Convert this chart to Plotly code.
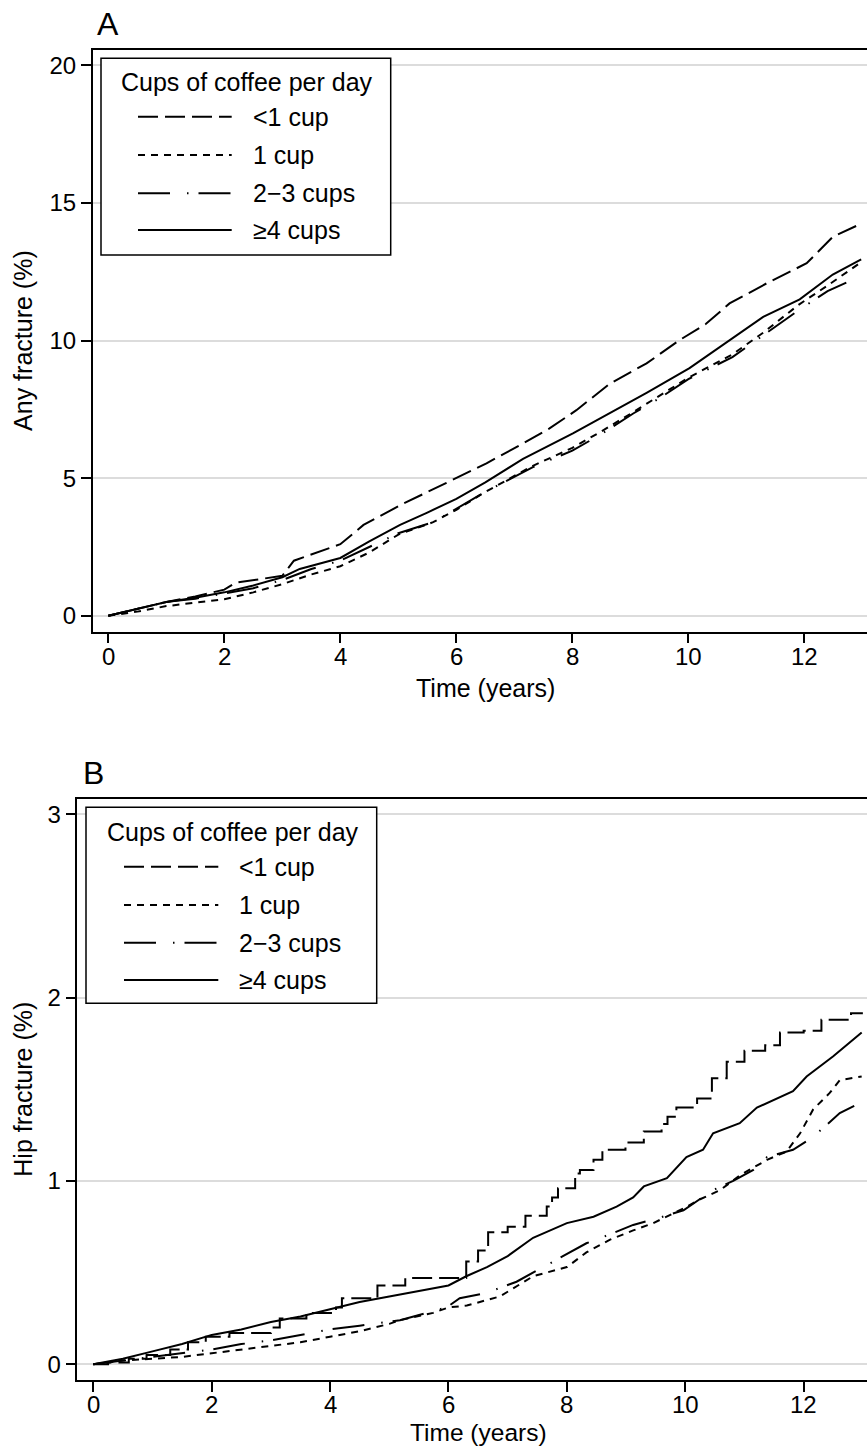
import plotly.graph_objects as go

W, H = 867, 1446

# ---------------- data ----------------
series_names = ["<1 cup", "1 cup", "2\u22123 cups", "\u22654 cups"]
legend_title = "Cups of coffee per day"

# Panel A: any fracture (%)
a_lt1_t = [0, 0.5, 1.0, 1.5, 2.0, 2.2, 2.5, 3.0, 3.2, 3.6, 4.0, 4.4, 5.09, 5.83, 6.52, 7.15, 7.6, 8.07, 8.65, 9.28, 9.85, 10.3, 10.71, 11.35, 12.04, 12.49, 12.98]
a_lt1_v = [0, 0.25, 0.5, 0.7, 0.95, 1.2, 1.3, 1.45, 2.0, 2.3, 2.6, 3.3, 4.08, 4.83, 5.54, 6.26, 6.8, 7.47, 8.44, 9.17, 10.02, 10.6, 11.35, 12.08, 12.81, 13.77, 14.25]

a_1_t = [0, 0.5, 1.0, 1.5, 2.0, 2.5, 3.0, 3.5, 4.0, 4.5, 5.0, 5.6, 6.0, 6.5, 7.32, 8.0, 8.5, 9.05, 9.5, 10.0, 10.76, 11.3, 11.9, 12.4, 12.98]
a_1_v = [0, 0.15, 0.35, 0.48, 0.6, 0.85, 1.15, 1.5, 1.8, 2.3, 2.95, 3.4, 3.85, 4.5, 5.45, 6.1, 6.7, 7.4, 8.0, 8.65, 9.5, 10.3, 11.3, 12.0, 12.85]

a_23_t = [0, 0.5, 1.0, 1.5, 2.0, 2.5, 3.0, 3.5, 4.0, 4.5, 5.0, 5.6, 6.0, 6.5, 7.32, 8.0, 8.5, 9.05, 9.5, 10.0, 10.76, 11.3, 11.9, 12.4, 12.98]
a_23_v = [0, 0.25, 0.5, 0.62, 0.8, 1.0, 1.3, 1.7, 2.0, 2.5, 3.0, 3.4, 3.9, 4.5, 5.4, 6.0, 6.6, 7.35, 7.9, 8.6, 9.4, 10.2, 11.1, 11.8, 12.35]

a_4_t = [0, 0.5, 1.0, 1.5, 2.0, 2.5, 3.0, 3.3, 4.0, 4.5, 5.03, 5.5, 6.0, 6.5, 7.15, 8.01, 8.6, 9.28, 10.02, 10.6, 11.29, 11.92, 12.49, 12.98]
a_4_v = [0, 0.25, 0.5, 0.65, 0.85, 1.1, 1.4, 1.7, 2.1, 2.7, 3.3, 3.75, 4.25, 4.85, 5.7, 6.63, 7.3, 8.1, 9.0, 9.85, 10.86, 11.5, 12.4, 12.95]

# Panel B: hip fracture (%)
b_lt1_t = [0, 0.25, 0.6, 0.9, 1.3, 1.6, 1.9, 2.3, 3.0, 3.15, 3.6, 4.1, 4.2, 4.8, 5.27, 6.3, 6.5, 6.67, 7.0, 7.3, 7.66, 7.75, 7.85, 8.14, 8.22, 8.45, 8.6, 8.99, 9.3, 9.6, 9.7, 9.85, 10.2, 10.45, 10.7, 11.0, 11.35, 11.6, 12.0, 12.3, 12.8, 13.0]
b_lt1_v = [0, 0.01, 0.03, 0.05, 0.08, 0.12, 0.15, 0.17, 0.20, 0.25, 0.28, 0.31, 0.36, 0.43, 0.47, 0.56, 0.62, 0.72, 0.75, 0.81, 0.86, 0.91, 0.96, 1.04, 1.06, 1.115, 1.17, 1.21, 1.27, 1.31, 1.35, 1.40, 1.45, 1.56, 1.65, 1.71, 1.74, 1.81, 1.82, 1.88, 1.915, 1.915]

b_1_t = [0, 0.5, 1.0, 1.5, 2.0, 2.5, 3.0, 3.5, 4.0, 4.5, 5.0, 5.18, 5.74, 6.0, 6.31, 6.87, 7.43, 8.0, 8.33, 8.73, 9.12, 9.46, 9.97, 10.25, 10.59, 10.92, 11.38, 11.71, 11.94, 12.16, 12.44, 12.61, 12.98]
b_1_v = [0, 0.02, 0.03, 0.04, 0.06, 0.08, 0.10, 0.12, 0.15, 0.18, 0.22, 0.24, 0.28, 0.31, 0.32, 0.37, 0.48, 0.53, 0.61, 0.68, 0.73, 0.77, 0.85, 0.90, 0.95, 1.03, 1.115, 1.16, 1.26, 1.39, 1.48, 1.55, 1.57]

b_23_t = [0, 0.5, 1.0, 1.5, 2.0, 2.5, 3.0, 3.5, 4.0, 4.5, 5.0, 5.18, 5.74, 5.97, 6.19, 6.65, 7.15, 7.6, 8.05, 8.33, 8.78, 9.12, 9.57, 9.97, 10.47, 10.81, 11.15, 11.38, 11.82, 12.16, 12.61, 12.98]
b_23_v = [0, 0.02, 0.04, 0.06, 0.08, 0.11, 0.13, 0.16, 0.19, 0.21, 0.23, 0.24, 0.29, 0.31, 0.36, 0.39, 0.45, 0.53, 0.61, 0.66, 0.715, 0.76, 0.80, 0.84, 0.95, 1.0, 1.06, 1.13, 1.17, 1.24, 1.37, 1.43]

b_4_t = [0, 0.5, 1.0, 1.5, 2.0, 2.5, 3.0, 3.5, 4.0, 4.5, 5.0, 5.5, 6.0, 6.3, 6.65, 7.0, 7.43, 8.0, 8.45, 8.84, 9.12, 9.3, 9.69, 10.02, 10.3, 10.47, 10.92, 11.21, 11.82, 12.05, 12.5, 12.98]
b_4_v = [0, 0.03, 0.07, 0.11, 0.16, 0.19, 0.23, 0.26, 0.30, 0.34, 0.37, 0.40, 0.43, 0.48, 0.53, 0.59, 0.69, 0.77, 0.805, 0.86, 0.91, 0.97, 1.015, 1.13, 1.17, 1.26, 1.315, 1.40, 1.49, 1.57, 1.68, 1.81]

x_ticks = [0, 2, 4, 6, 8, 10, 12]
a_y_ticks = [0, 5, 10, 15, 20]
b_y_ticks = [0, 1, 2, 3]

# ---------------- styles ----------------
FONT = "Liberation Sans, Arial, Helvetica, sans-serif"
dashes = ["20px,7px", "7px,6px", "32px,17px,1.5px,10px", "solid"]
LW = 2.0
TXT = 25


def px(x):
    return x / W


def py(y):
    return 1 - y / H


fig = go.Figure()

panelA = [(a_lt1_t, a_lt1_v, "linear"), (a_1_t, a_1_v, "linear"),
          (a_23_t, a_23_v, "linear"), (a_4_t, a_4_v, "linear")]
panelB = [(b_lt1_t, b_lt1_v, "hv"), (b_1_t, b_1_v, "linear"),
          (b_23_t, b_23_v, "linear"), (b_4_t, b_4_v, "linear")]

for i, (t, v, shp) in enumerate(panelA):
    fig.add_trace(go.Scatter(x=t, y=v, mode="lines", name=series_names[i],
                             line=dict(color="black", width=LW, dash=dashes[i], shape=shp),
                             xaxis="x", yaxis="y", showlegend=False))
for i, (t, v, shp) in enumerate(panelB):
    fig.add_trace(go.Scatter(x=t, y=v, mode="lines", name=series_names[i],
                             line=dict(color="black", width=LW, dash=dashes[i], shape=shp),
                             xaxis="x2", yaxis="y2", showlegend=False))

axis_common = dict(showline=True, linecolor="black", linewidth=1.5,
                   ticks="outside", ticklen=10, tickwidth=1.5, tickcolor="black",
                   tickfont=dict(family=FONT, size=24, color="black"), zeroline=False)

fig.update_layout(
    width=W, height=H, margin=dict(l=0, r=0, t=0, b=0),
    paper_bgcolor="white", plot_bgcolor="white",
    font=dict(family=FONT, size=24, color="black"),
    xaxis=dict(domain=[px(92.7), 1], range=[-0.269, 13.08], tickvals=x_ticks,
               showticklabels=False, showgrid=False, mirror=True, anchor="y", **axis_common),
    yaxis=dict(domain=[py(631.7), py(50)], range=[-0.58, 20.56], tickvals=a_y_ticks,
               showgrid=True, gridcolor="#dcdcdc", gridwidth=1.5, mirror=False,
               anchor="x", **axis_common),
    xaxis2=dict(domain=[px(77.3), 1], range=[-0.27, 13.07], tickvals=x_ticks,
                showticklabels=False, showgrid=False, mirror=True, anchor="y2", **axis_common),
    yaxis2=dict(domain=[py(1380), py(799.3)], range=[-0.086, 3.082], tickvals=b_y_ticks,
                showgrid=True, gridcolor="#dcdcdc", gridwidth=1.5, mirror=False,
                anchor="x2", **axis_common),
)

shapes = []
annotations = []


def add_text(text, x, y, size=TXT, xanchor="left", angle=0):
    annotations.append(dict(text=text, x=px(x), y=py(y), xref="paper", yref="paper",
                            xanchor=xanchor, yanchor="middle", showarrow=False,
                            textangle=angle, borderpad=0,
                            font=dict(family=FONT, size=size, color="black")))


def add_xticklabels(xref, y):
    for t in x_ticks:
        annotations.append(dict(text=str(t), x=t, y=py(y), xref=xref, yref="paper",
                                xanchor="center", yanchor="middle", showarrow=False,
                                borderpad=0, font=dict(family=FONT, size=24, color="black")))


def add_legend(box, title_x, title_y, item_ys, sample_x0, sample_x1, text_x):
    x0, y0, x1, y1 = box
    shapes.append(dict(type="rect", xref="paper", yref="paper",
                       x0=px(x0), x1=px(x1), y0=py(y1), y1=py(y0),
                       line=dict(color="black", width=1.5), fillcolor="white", layer="above"))
    add_text(legend_title, title_x, title_y)
    for i, yy in enumerate(item_ys):
        shapes.append(dict(type="line", xref="paper", yref="paper",
                           x0=px(sample_x0), x1=px(sample_x1), y0=py(yy), y1=py(yy),
                           line=dict(color="black", width=LW, dash=dashes[i]), layer="above"))
        add_text(series_names[i], text_x, yy)


# Panel A
add_text("A", 96, 24, size=32)
add_text("Any fracture (%)", 23, 340.9, angle=-90, xanchor="center")
add_xticklabels("x", 656.5)
add_text("Time (years)", 485, 688, xanchor="center")
add_legend((101, 58.3, 390.7, 255), 120, 81.7, [116.7, 155, 193.3, 230], 138, 231.7, 251.7)

# Panel B
add_text("B", 82, 773, size=32)
add_text("Hip fracture (%)", 23, 1089.7, angle=-90, xanchor="center")
add_xticklabels("x2", 1404)
add_text("Time (years)", 478, 1432, size=24.5, xanchor="center")
add_legend((86, 807.3, 376.7, 1003.3), 106, 831.7, [866.7, 905, 942.7, 980], 124, 218.3, 238.3)

fig.update_layout(shapes=shapes, annotations=annotations)

fig.write_html("out.html", config={"displayModeBar": False},
               post_script="document.body.style.margin='0';document.body.style.overflow='hidden';")
